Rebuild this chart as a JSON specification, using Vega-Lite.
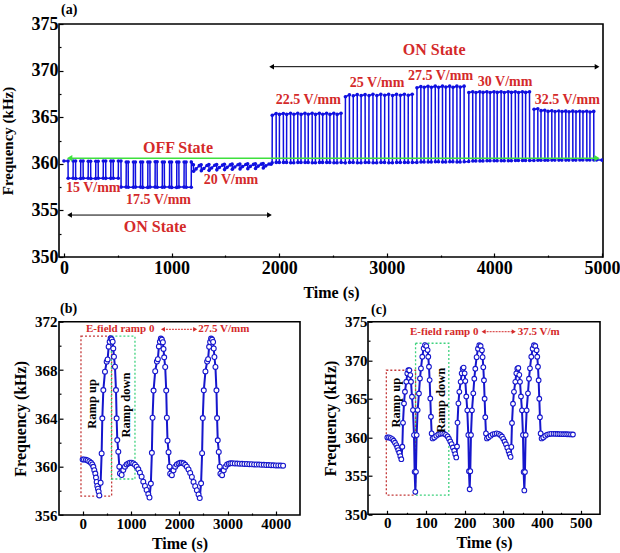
{
  "$schema": "https://vega.github.io/schema/vega-lite/v6.json",
  "autosize": {"type": "none"},
  "padding": {"left": 59, "top": 24, "right": 561, "bottom": 529},
  "background": "white",
  "bounds": "flush",
  "spacing": 64.7,
  "config": {
    "view": {"stroke": "black", "strokeWidth": 1.6},
    "font": "Liberation Serif",
    "axis": {"domain": false, "grid": false, "labelFont": "Liberation Serif", "labelFontWeight": "bold", "labelColor": "black", "titleFont": "Liberation Serif", "titleFontWeight": "bold", "titleColor": "black", "tickColor": "black", "tickWidth": 1.2, "labelOverlap": false, "labelFlush": false, "labelBound": false},
    "title": {"font": "Liberation Serif", "fontWeight": "bold", "fontSize": 14, "anchor": "start", "frame": "group", "color": "black", "offset": 0}
  },
  "vconcat": [
    {
      "width": 544, "height": 233,
      "title": {"text": "(a)", "dx": 2, "dy": 6},
      "encoding": {
        "x": {"field": "t", "type": "quantitative", "scale": {"domain": [-46, 5010], "nice": false, "zero": false},
          "axis": {"title": "Time (s)", "values": [0, 500, 1000, 1500, 2000, 2500, 3000, 3500, 4000, 4500, 5000], "format": "d", "labelExpr": "datum.value % 1000 === 0 ? datum.label : ''", "tickSize": {"condition": {"test": "datum.value % 1000 === 0", "value": -4}, "value": -2}, "labelFontSize": 18, "titleFontSize": 16, "labelPadding": 6, "titleY": 35, "titleBaseline": "middle"}},
        "y": {"field": "f", "type": "quantitative", "scale": {"domain": [350, 375], "nice": false, "zero": false},
          "axis": {"title": "Frequency (kHz)", "values": [350, 352.5, 355, 357.5, 360, 362.5, 365, 367.5, 370, 372.5, 375], "format": "d", "labelExpr": "datum.value % 5 === 0 ? datum.label : ''", "tickSize": {"condition": {"test": "datum.value % 5 === 0", "value": -4}, "value": -2}, "labelFontSize": 18, "titleFontSize": 15, "labelPadding": 5, "titleX": -52, "titleBaseline": "middle"}}
      },
      "layer": [
        {
          "data": {"values": [
            {"t":0,"f":360.3},
            {"t":38,"f":360.3},{"t":39,"f":358.45},{"t":85,"f":358.45},{"t":86,"f":360.3},
            {"t":108,"f":360.3},{"t":109,"f":358.42},{"t":155,"f":358.42},{"t":156,"f":360.3},
            {"t":178,"f":360.3},{"t":179,"f":358.45},{"t":225,"f":358.45},{"t":226,"f":360.28},
            {"t":248,"f":360.28},{"t":249,"f":358.43},{"t":295,"f":358.43},{"t":296,"f":360.28},
            {"t":318,"f":360.28},{"t":319,"f":358.45},{"t":365,"f":358.45},{"t":366,"f":360.3},
            {"t":388,"f":360.3},{"t":389,"f":358.44},{"t":435,"f":358.44},{"t":436,"f":360.3},
            {"t":458,"f":360.3},{"t":459,"f":358.45},{"t":505,"f":358.45},{"t":506,"f":360.3},
            {"t":530,"f":360.3},{"t":531,"f":357.5},{"t":578,"f":357.5},{"t":579,"f":360.2},
            {"t":597,"f":360.2},{"t":598,"f":357.48},{"t":645,"f":357.48},{"t":646,"f":360.2},
            {"t":664,"f":360.2},{"t":665,"f":357.5},{"t":712,"f":357.5},{"t":713,"f":360.2},
            {"t":731,"f":360.2},{"t":732,"f":357.47},{"t":779,"f":357.47},{"t":780,"f":360.2},
            {"t":799,"f":360.2},{"t":800,"f":357.5},{"t":847,"f":357.5},{"t":848,"f":360.22},
            {"t":866,"f":360.22},{"t":867,"f":357.48},{"t":914,"f":357.48},{"t":915,"f":360.2},
            {"t":933,"f":360.2},{"t":934,"f":357.5},{"t":981,"f":357.5},{"t":982,"f":360.2},
            {"t":1000,"f":360.2},{"t":1001,"f":357.47},{"t":1048,"f":357.47},{"t":1049,"f":360.2},
            {"t":1068,"f":360.2},{"t":1069,"f":357.5},{"t":1116,"f":357.5},{"t":1117,"f":360.2},
            {"t":1135,"f":360.2},{"t":1136,"f":357.48},{"t":1183,"f":357.48},{"t":1184,"f":360.2},
            {"t":1203,"f":359.9},{"t":1205,"f":359.2},{"t":1228,"f":359.45},{"t":1258,"f":359.8},
            {"t":1275,"f":359.9},{"t":1277,"f":359.25},{"t":1300,"f":359.5},{"t":1330,"f":359.82},
            {"t":1347,"f":359.92},{"t":1349,"f":359.3},{"t":1372,"f":359.55},{"t":1402,"f":359.85},
            {"t":1419,"f":359.93},{"t":1421,"f":359.35},{"t":1444,"f":359.6},{"t":1474,"f":359.86},
            {"t":1491,"f":359.95},{"t":1493,"f":359.38},{"t":1516,"f":359.62},{"t":1546,"f":359.88},
            {"t":1563,"f":359.96},{"t":1565,"f":359.42},{"t":1588,"f":359.66},{"t":1618,"f":359.9},
            {"t":1635,"f":359.98},{"t":1637,"f":359.45},{"t":1660,"f":359.7},{"t":1690,"f":359.92},
            {"t":1707,"f":360.0},{"t":1709,"f":359.48},{"t":1732,"f":359.72},{"t":1762,"f":359.94},
            {"t":1779,"f":360.0},{"t":1781,"f":359.5},{"t":1804,"f":359.75},{"t":1834,"f":359.96},
            {"t":1851,"f":360.02},{"t":1853,"f":359.55},{"t":1876,"f":359.78},{"t":1906,"f":359.98},
            {"t":1925,"f":359.95},
            {"t":1935,"f":360.1},{"t":1936,"f":365.2},{"t":1972,"f":365.4},{"t":1973,"f":360.15},
            {"t":2002,"f":360.15},{"t":2003,"f":365.3},{"t":2039,"f":365.4},{"t":2040,"f":360.15},
            {"t":2069,"f":360.15},{"t":2070,"f":365.3},{"t":2106,"f":365.42},{"t":2107,"f":360.12},
            {"t":2136,"f":360.12},{"t":2137,"f":365.32},{"t":2173,"f":365.42},{"t":2174,"f":360.15},
            {"t":2203,"f":360.15},{"t":2204,"f":365.3},{"t":2240,"f":365.42},{"t":2241,"f":360.15},
            {"t":2270,"f":360.15},{"t":2271,"f":365.32},{"t":2307,"f":365.43},{"t":2308,"f":360.12},
            {"t":2337,"f":360.12},{"t":2338,"f":365.3},{"t":2374,"f":365.42},{"t":2375,"f":360.15},
            {"t":2404,"f":360.15},{"t":2405,"f":365.32},{"t":2441,"f":365.43},{"t":2442,"f":360.15},
            {"t":2471,"f":360.15},{"t":2472,"f":365.3},{"t":2508,"f":365.42},{"t":2509,"f":360.12},
            {"t":2538,"f":360.12},{"t":2539,"f":365.3},{"t":2575,"f":365.42},{"t":2576,"f":360.15},
            {"t":2615,"f":360.1},{"t":2616,"f":367.2},{"t":2653,"f":367.4},{"t":2654,"f":360.15},
            {"t":2688,"f":360.15},{"t":2689,"f":367.3},{"t":2726,"f":367.42},{"t":2727,"f":360.12},
            {"t":2761,"f":360.12},{"t":2762,"f":367.32},{"t":2799,"f":367.42},{"t":2800,"f":360.15},
            {"t":2834,"f":360.15},{"t":2835,"f":367.32},{"t":2872,"f":367.45},{"t":2873,"f":360.12},
            {"t":2907,"f":360.12},{"t":2908,"f":367.33},{"t":2945,"f":367.45},{"t":2946,"f":360.15},
            {"t":2980,"f":360.15},{"t":2981,"f":367.35},{"t":3018,"f":367.45},{"t":3019,"f":360.12},
            {"t":3053,"f":360.12},{"t":3054,"f":367.33},{"t":3091,"f":367.45},{"t":3092,"f":360.15},
            {"t":3126,"f":360.15},{"t":3127,"f":367.35},{"t":3164,"f":367.46},{"t":3165,"f":360.15},
            {"t":3199,"f":360.15},{"t":3200,"f":367.35},{"t":3237,"f":367.46},{"t":3238,"f":360.15},
            {"t":3280,"f":360.15},{"t":3281,"f":368.15},{"t":3317,"f":368.3},{"t":3318,"f":360.2},
            {"t":3347,"f":360.2},{"t":3348,"f":368.22},{"t":3384,"f":368.32},{"t":3385,"f":360.2},
            {"t":3414,"f":360.2},{"t":3415,"f":368.22},{"t":3451,"f":368.33},{"t":3452,"f":360.22},
            {"t":3481,"f":360.22},{"t":3482,"f":368.22},{"t":3518,"f":368.33},{"t":3519,"f":360.2},
            {"t":3548,"f":360.2},{"t":3549,"f":368.23},{"t":3585,"f":368.33},{"t":3586,"f":360.22},
            {"t":3615,"f":360.22},{"t":3616,"f":368.22},{"t":3652,"f":368.33},{"t":3653,"f":360.2},
            {"t":3682,"f":360.2},{"t":3683,"f":368.23},{"t":3719,"f":368.33},{"t":3720,"f":360.22},
            {"t":3762,"f":360.25},{"t":3763,"f":367.65},{"t":3799,"f":367.72},{"t":3800,"f":360.3},
            {"t":3828,"f":360.3},{"t":3829,"f":367.65},{"t":3865,"f":367.72},{"t":3866,"f":360.3},
            {"t":3894,"f":360.3},{"t":3895,"f":367.66},{"t":3931,"f":367.72},{"t":3932,"f":360.32},
            {"t":3960,"f":360.32},{"t":3961,"f":367.65},{"t":3997,"f":367.72},{"t":3998,"f":360.32},
            {"t":4026,"f":360.32},{"t":4027,"f":367.66},{"t":4063,"f":367.72},{"t":4064,"f":360.33},
            {"t":4092,"f":360.33},{"t":4093,"f":367.65},{"t":4129,"f":367.72},{"t":4130,"f":360.33},
            {"t":4158,"f":360.33},{"t":4159,"f":367.66},{"t":4195,"f":367.72},{"t":4196,"f":360.35},
            {"t":4224,"f":360.35},{"t":4225,"f":367.65},{"t":4261,"f":367.72},{"t":4262,"f":360.35},
            {"t":4290,"f":360.35},{"t":4291,"f":367.66},{"t":4327,"f":367.72},{"t":4328,"f":360.35},
            {"t":4368,"f":360.35},{"t":4369,"f":365.85},{"t":4404,"f":365.9},{"t":4405,"f":360.38},
            {"t":4433,"f":360.38},{"t":4434,"f":365.7},{"t":4469,"f":365.75},{"t":4470,"f":360.38},
            {"t":4498,"f":360.38},{"t":4499,"f":365.62},{"t":4534,"f":365.68},{"t":4535,"f":360.4},
            {"t":4563,"f":360.4},{"t":4564,"f":365.6},{"t":4599,"f":365.66},{"t":4600,"f":360.4},
            {"t":4628,"f":360.4},{"t":4629,"f":365.6},{"t":4664,"f":365.65},{"t":4665,"f":360.4},
            {"t":4693,"f":360.4},{"t":4694,"f":365.58},{"t":4729,"f":365.65},{"t":4730,"f":360.4},
            {"t":4758,"f":360.4},{"t":4759,"f":365.58},{"t":4794,"f":365.64},{"t":4795,"f":360.42},
            {"t":4823,"f":360.42},{"t":4824,"f":365.58},{"t":4859,"f":365.64},{"t":4860,"f":360.42},
            {"t":4888,"f":360.42},{"t":4889,"f":365.56},{"t":4924,"f":365.62},{"t":4925,"f":360.42},
            {"t":4950,"f":360.42},{"t":5000,"f":360.4}
          ]},
          "mark": {"type": "line", "color": "#1010e0", "strokeWidth": 1.5, "clip": true, "point": {"filled": true, "size": 13, "color": "#1010e0"}}
        },
        {
          "data": {"values": [{"t": 52, "t2": 4955, "f": 360.6}]},
          "mark": {"type": "rule", "color": "#3ee03e", "strokeWidth": 1.6},
          "encoding": {"x2": {"field": "t2"}}
        },
        {
          "data": {"values": [{"t": 52, "f": 360.6, "d": "L"}, {"t": 4955, "f": 360.6, "d": "R"}]},
          "mark": {"type": "point", "filled": true, "color": "#3ee03e", "size": 40, "opacity": 1},
          "encoding": {"shape": {"field": "d", "type": "nominal", "scale": {"domain": ["L", "R"], "range": ["triangle-left", "triangle-right"]}, "legend": null}}
        },
        {
          "data": {"values": [{"t": 1930, "t2": 4955, "f": 370.42}, {"t": 52, "t2": 1910, "f": 354.5}]},
          "mark": {"type": "rule", "color": "black", "strokeWidth": 1},
          "encoding": {"x2": {"field": "t2"}}
        },
        {
          "data": {"values": [{"t": 1930, "f": 370.42, "d": "L"}, {"t": 4955, "f": 370.42, "d": "R"}, {"t": 52, "f": 354.5, "d": "L"}, {"t": 1910, "f": 354.5, "d": "R"}]},
          "mark": {"type": "point", "filled": true, "color": "black", "size": 30, "opacity": 1},
          "encoding": {"shape": {"field": "d", "type": "nominal", "scale": {"domain": ["L", "R"], "range": ["triangle-left", "triangle-right"]}, "legend": null}}
        },
        {
          "data": {"values": [
            {"t": 272, "f": 357.37, "s": "15 V/mm"},
            {"t": 878, "f": 356.1, "s": "17.5 V/mm"},
            {"t": 1552, "f": 358.26, "s": "20 V/mm"},
            {"t": 2272, "f": 366.85, "s": "22.5 V/mm"},
            {"t": 2910, "f": 368.64, "s": "25 V/mm"},
            {"t": 3500, "f": 369.42, "s": "27.5 V/mm"},
            {"t": 4100, "f": 368.8, "s": "30 V/mm"},
            {"t": 4678, "f": 366.85, "s": "32.5 V/mm"}
          ]},
          "mark": {"type": "text", "font": "Liberation Serif", "fontWeight": "bold", "fontSize": 14, "color": "#d42a2a", "align": "center", "baseline": "middle"},
          "encoding": {"text": {"field": "s"}}
        },
        {
          "data": {"values": [
            {"t": 1060, "f": 361.66, "s": "OFF State"},
            {"t": 3441, "f": 372.2, "s": "ON State"},
            {"t": 847, "f": 353.25, "s": "ON State"}
          ]},
          "mark": {"type": "text", "font": "Liberation Serif", "fontWeight": "bold", "fontSize": 16, "color": "#d42a2a", "align": "center", "baseline": "middle"},
          "encoding": {"text": {"field": "s"}}
        }
      ]
    },
    {
      "hconcat": [
        {
          "width": 241, "height": 193.3,
          "title": {"text": "(b)", "dx": 1, "dy": 5},
          "encoding": {
            "x": {"field": "t", "type": "quantitative", "scale": {"domain": [-490, 4500], "nice": false, "zero": false},
              "axis": {"title": "Time (s)", "values": [0, 500, 1000, 1500, 2000, 2500, 3000, 3500, 4000], "format": "d", "labelExpr": "datum.value % 1000 === 0 ? datum.label : ''", "tickSize": {"condition": {"test": "datum.value % 1000 === 0", "value": -4}, "value": -2}, "labelFontSize": 15, "titleFontSize": 16, "labelPadding": 5, "titleY": 28, "titleBaseline": "middle"}},
            "y": {"field": "f", "type": "quantitative", "scale": {"domain": [356, 372], "nice": false, "zero": false},
              "axis": {"title": "Frequency (kHz)", "values": [356, 358, 360, 362, 364, 366, 368, 370, 372], "format": "d", "labelExpr": "datum.value % 4 === 0 ? datum.label : ''", "tickSize": {"condition": {"test": "datum.value % 4 === 0", "value": -4}, "value": -2}, "labelFontSize": 15, "titleFontSize": 16, "labelPadding": 6, "titleX": -39, "titleBaseline": "middle"}}
          },
          "layer": [
            {
              "data": {"values": [
                {"t": -35, "t2": 600, "f": 357.57, "f2": 370.8, "k": "up"},
                {"t": 595, "t2": 1083, "f": 358.98, "f2": 370.8, "k": "down"}
              ]},
              "mark": {"type": "rect", "filled": false, "strokeDash": [2, 2], "strokeWidth": 1.3},
              "encoding": {"x2": {"field": "t2"}, "y2": {"field": "f2"}, "color": {"field": "k", "type": "nominal", "scale": {"domain": ["up", "down"], "range": ["#c43a3a", "#3fd27e"]}, "legend": null}}
            },
            {
              "data": {"name": "b"},
              "layer": [
                {"mark": {"type": "line", "color": "#1616cc", "strokeWidth": 2}},
                {"mark": {"type": "point", "shape": "circle", "filled": true, "fill": "white", "stroke": "#1616cc", "strokeWidth": 1.1, "size": 24, "opacity": 1}}
              ]
            },
            {
              "data": {"values": [{"t": 186, "f": 365.2, "s": "Ramp up"}, {"t": 890, "f": 365.1, "s": "Ramp down"}]},
              "mark": {"type": "text", "angle": 270, "font": "Liberation Serif", "fontWeight": "bold", "fontSize": 12.5, "color": "black", "align": "center", "baseline": "middle"},
              "encoding": {"text": {"field": "s"}}
            },
            {
              "data": {"values": [{"t": 68, "f": 371.37, "s": "E-field ramp 0"}, {"t": 2394, "f": 371.37, "s": "27.5 V/mm"}]},
              "mark": {"type": "text", "font": "Liberation Serif", "fontWeight": "bold", "fontSize": 11, "color": "#d42a2a", "align": "left", "baseline": "middle"},
              "encoding": {"text": {"field": "s"}}
            },
            {
              "data": {"values": [{"t": 1662, "t2": 2330, "f": 371.37}]},
              "mark": {"type": "rule", "color": "#d42a2a", "strokeWidth": 1, "strokeDash": [2, 1]},
              "encoding": {"x2": {"field": "t2"}}
            },
            {
              "data": {"values": [{"t": 1662, "f": 371.37, "d": "L"}, {"t": 2330, "f": 371.37, "d": "R"}]},
              "mark": {"type": "point", "filled": true, "color": "#d42a2a", "size": 22, "opacity": 1},
              "encoding": {"shape": {"field": "d", "type": "nominal", "scale": {"domain": ["L", "R"], "range": ["triangle-left", "triangle-right"]}, "legend": null}}
            }
          ]
        },
        {
          "width": 232, "height": 192.6,
          "title": {"text": "(c)", "dx": 3, "dy": 6},
          "encoding": {
            "x": {"field": "t", "type": "quantitative", "scale": {"domain": [-50, 550], "nice": false, "zero": false},
              "axis": {"title": "Time (s)", "values": [0, 50, 100, 150, 200, 250, 300, 350, 400, 450, 500], "format": "d", "labelExpr": "datum.value % 100 === 0 ? datum.label : ''", "tickSize": {"condition": {"test": "datum.value % 100 === 0", "value": -4}, "value": -2}, "labelFontSize": 15, "titleFontSize": 16, "labelPadding": 5, "titleY": 28, "titleBaseline": "middle"}},
            "y": {"field": "f", "type": "quantitative", "scale": {"domain": [350, 375], "nice": false, "zero": false},
              "axis": {"title": "Frequency (kHz)", "values": [350, 352.5, 355, 357.5, 360, 362.5, 365, 367.5, 370, 372.5, 375], "format": "d", "labelExpr": "datum.value % 5 === 0 ? datum.label : ''", "tickSize": {"condition": {"test": "datum.value % 5 === 0", "value": -4}, "value": -2}, "labelFontSize": 15, "titleFontSize": 16, "labelPadding": 5, "titleX": -38, "titleBaseline": "middle"}}
          },
          "layer": [
            {
              "data": {"values": [
                {"t": -2.6, "t2": 73, "f": 352.5, "f2": 368.7, "k": "up"},
                {"t": 73, "t2": 159, "f": 352.5, "f2": 372.2, "k": "down"}
              ]},
              "mark": {"type": "rect", "filled": false, "strokeDash": [2, 2], "strokeWidth": 1.3},
              "encoding": {"x2": {"field": "t2"}, "y2": {"field": "f2"}, "color": {"field": "k", "type": "nominal", "scale": {"domain": ["up", "down"], "range": ["#c43a3a", "#3fd27e"]}, "legend": null}}
            },
            {
              "data": {"name": "c"},
              "layer": [
                {"mark": {"type": "line", "color": "#1616cc", "strokeWidth": 2}},
                {"mark": {"type": "point", "shape": "circle", "filled": true, "fill": "white", "stroke": "#1616cc", "strokeWidth": 1.1, "size": 22, "opacity": 1}}
              ]
            },
            {
              "data": {"values": [{"t": 21.7, "f": 364.5, "s": "Ramp up"}, {"t": 138, "f": 364.8, "s": "Ramp down"}]},
              "mark": {"type": "text", "angle": 270, "font": "Liberation Serif", "fontWeight": "bold", "fontSize": 12.5, "color": "black", "align": "center", "baseline": "middle"},
              "encoding": {"text": {"field": "s"}}
            },
            {
              "data": {"values": [{"t": 58.7, "f": 373.7, "s": "E-field ramp 0"}, {"t": 337, "f": 373.7, "s": "37.5 V/m"}]},
              "mark": {"type": "text", "font": "Liberation Serif", "fontWeight": "bold", "fontSize": 11, "color": "#d42a2a", "align": "left", "baseline": "middle"},
              "encoding": {"text": {"field": "s"}}
            },
            {
              "data": {"values": [{"t": 249, "t2": 327, "f": 373.7}]},
              "mark": {"type": "rule", "color": "#d42a2a", "strokeWidth": 1, "strokeDash": [2, 1]},
              "encoding": {"x2": {"field": "t2"}}
            },
            {
              "data": {"values": [{"t": 249, "f": 373.7, "d": "L"}, {"t": 327, "f": 373.7, "d": "R"}]},
              "mark": {"type": "point", "filled": true, "color": "#d42a2a", "size": 22, "opacity": 1},
              "encoding": {"shape": {"field": "d", "type": "nominal", "scale": {"domain": ["L", "R"], "range": ["triangle-left", "triangle-right"]}, "legend": null}}
            }
          ]
        }
      ],
      "spacing": 68,
      "bounds": "flush"
    }
  ],
  "datasets": {
    "b": [
      {"t":0,"f":360.6},{"t":28,"f":360.6},{"t":69,"f":360.57},{"t":103,"f":360.52},{"t":138,"f":360.43},{"t":172,"f":360.32},{"t":200,"f":360.18},{"t":221,"f":359.99},{"t":241,"f":359.71},{"t":262,"f":359.43},{"t":276,"f":359.1},{"t":290,"f":358.74},{"t":303,"f":358.4},{"t":317,"f":358.18},{"t":331,"f":357.95},{"t":345,"f":357.62},
      {"t":372,"f":358.67},{"t":393,"f":361.1},{"t":407,"f":364.0},{"t":428,"f":366.34},{"t":462,"f":367.86},{"t":497,"f":368.69},{"t":517,"f":368.88},{"t":538,"f":369.93},{"t":559,"f":370.34},{"t":579,"f":370.62},
      {"t":600,"f":370.54},{"t":621,"f":370.34},{"t":634,"f":369.79},{"t":648,"f":369.1},{"t":669,"f":368.27},{"t":690,"f":366.34},{"t":703,"f":364.0},{"t":717,"f":362.2},{"t":738,"f":361.24},{"t":759,"f":360.0},{"t":772,"f":359.44},
      {"t":807,"f":359.31},{"t":841,"f":359.72},{"t":876,"f":360.0},{"t":910,"f":360.19},{"t":945,"f":360.27},{"t":979,"f":360.33},{"t":1014,"f":360.33},{"t":1048,"f":360.27},{"t":1083,"f":360.16},{"t":1117,"f":360.0},{"t":1152,"f":359.78},{"t":1186,"f":359.5},{"t":1221,"f":359.17},{"t":1255,"f":358.76},{"t":1290,"f":358.4},{"t":1324,"f":358.07},{"t":1359,"f":357.73},{"t":1384,"f":357.45},
      {"t":1412,"f":358.6},{"t":1433,"f":361.15},{"t":1447,"f":364.05},{"t":1468,"f":366.3},{"t":1502,"f":367.9},{"t":1537,"f":368.7},{"t":1557,"f":368.9},{"t":1578,"f":369.95},{"t":1599,"f":370.35},{"t":1619,"f":370.6},
      {"t":1640,"f":370.52},{"t":1661,"f":370.3},{"t":1674,"f":369.75},{"t":1688,"f":369.05},{"t":1709,"f":368.25},{"t":1730,"f":366.3},{"t":1743,"f":364.05},{"t":1757,"f":362.15},{"t":1778,"f":361.2},{"t":1799,"f":360.0},{"t":1812,"f":359.42},
      {"t":1847,"f":359.3},{"t":1881,"f":359.7},{"t":1916,"f":360.0},{"t":1950,"f":360.18},{"t":1985,"f":360.27},{"t":2019,"f":360.32},{"t":2054,"f":360.33},{"t":2088,"f":360.28},{"t":2123,"f":360.15},{"t":2157,"f":360.0},{"t":2192,"f":359.77},{"t":2226,"f":359.48},{"t":2261,"f":359.15},{"t":2295,"f":358.74},{"t":2330,"f":358.38},{"t":2364,"f":358.05},{"t":2399,"f":357.7},{"t":2424,"f":357.4},
      {"t":2452,"f":358.62},{"t":2473,"f":361.12},{"t":2487,"f":364.02},{"t":2508,"f":366.32},{"t":2542,"f":367.88},{"t":2577,"f":368.7},{"t":2597,"f":368.9},{"t":2618,"f":369.92},{"t":2639,"f":370.32},{"t":2659,"f":370.6},
      {"t":2680,"f":370.52},{"t":2701,"f":370.32},{"t":2714,"f":369.78},{"t":2728,"f":369.08},{"t":2749,"f":368.26},{"t":2770,"f":366.32},{"t":2783,"f":364.02},{"t":2797,"f":362.18},{"t":2818,"f":361.22},{"t":2839,"f":360.0},{"t":2852,"f":359.42},
      {"t":2887,"f":359.3},{"t":2921,"f":359.7},{"t":2956,"f":360.0},{"t":2990,"f":360.18},{"t":3025,"f":360.25},{"t":3060,"f":360.28},{"t":3100,"f":360.28},{"t":3150,"f":360.27},{"t":3200,"f":360.26},{"t":3250,"f":360.25},{"t":3300,"f":360.24},{"t":3350,"f":360.23},{"t":3400,"f":360.22},{"t":3450,"f":360.21},{"t":3500,"f":360.2},{"t":3550,"f":360.19},{"t":3600,"f":360.18},{"t":3650,"f":360.17},{"t":3700,"f":360.16},{"t":3750,"f":360.15},{"t":3800,"f":360.14},{"t":3850,"f":360.13},{"t":3900,"f":360.12},{"t":3950,"f":360.11},{"t":4000,"f":360.1},{"t":4050,"f":360.1},{"t":4100,"f":360.09},{"t":4150,"f":360.08}
    ],
    "c": [
      {"t":0,"f":359.98},{"t":4.3,"f":359.98},{"t":8.6,"f":359.89},{"t":12.9,"f":359.76},{"t":16.4,"f":359.55},{"t":19.8,"f":359.29},{"t":23.3,"f":358.98},{"t":25.8,"f":358.68},{"t":28.4,"f":358.33},{"t":31,"f":357.99},{"t":33.6,"f":357.55},{"t":36.2,"f":357.15},
      {"t":38.8,"f":358.77},{"t":40.5,"f":361.88},{"t":43.1,"f":364.39},{"t":45.6,"f":365.91},{"t":49.1,"f":367.21},{"t":51.7,"f":368.29},{"t":54.3,"f":368.72},{"t":56.8,"f":368.7},{"t":59.4,"f":368.07},{"t":61.2,"f":367.21},{"t":63.7,"f":365.26},{"t":66.3,"f":363.53},{"t":68.9,"f":360.28},{"t":70.6,"f":355.52},{"t":72.4,"f":352.92},
      {"t":74,"f":355.52},{"t":75.8,"f":360.28},{"t":78.4,"f":363.53},{"t":81.8,"f":365.69},{"t":84.4,"f":367.64},{"t":87,"f":368.94},{"t":90.4,"f":370.45},{"t":93.9,"f":371.54},{"t":97.3,"f":371.97},{"t":100.8,"f":371.84},{"t":104.2,"f":371.32},{"t":105.9,"f":370.45},{"t":107.7,"f":369.16},{"t":109.4,"f":367.42},{"t":111.1,"f":365.04},{"t":112.8,"f":362.66},{"t":114.6,"f":360.5},{"t":117.1,"f":359.85},
      {"t":121.4,"f":359.98},{"t":126.6,"f":360.19},{"t":131.8,"f":360.37},{"t":137,"f":360.45},{"t":142.1,"f":360.5},{"t":147.3,"f":360.45},{"t":151.6,"f":360.32},{"t":155.9,"f":360.11},{"t":159.3,"f":359.81},{"t":162.8,"f":359.46},{"t":166.2,"f":359.11},{"t":169.7,"f":358.68},{"t":173.1,"f":358.25},{"t":175.7,"f":357.81},{"t":178.3,"f":357.38},
      {"t":180.2,"f":358.8},{"t":181.5,"f":361.9},{"t":183.8,"f":364.4},{"t":186.2,"f":365.9},{"t":189.6,"f":367.2},{"t":192.2,"f":368.3},{"t":194.8,"f":368.9},{"t":197.3,"f":369.05},{"t":199.9,"f":368.3},{"t":201.7,"f":367.3},{"t":204.2,"f":365.3},{"t":206.8,"f":363.5},{"t":209.4,"f":360.3},{"t":211.1,"f":355.6},{"t":212.9,"f":353.25},
      {"t":214.5,"f":355.6},{"t":216.3,"f":360.3},{"t":218.9,"f":363.5},{"t":222.3,"f":365.7},{"t":224.9,"f":367.6},{"t":227.5,"f":368.9},{"t":230.9,"f":370.4},{"t":234.4,"f":371.5},{"t":237.8,"f":371.95},{"t":241.3,"f":371.85},{"t":244.7,"f":371.3},{"t":246.4,"f":370.4},{"t":248.2,"f":369.1},{"t":249.9,"f":367.4},{"t":251.6,"f":365.0},{"t":253.3,"f":362.6},{"t":255.1,"f":360.5},{"t":257.6,"f":359.85},
      {"t":261.9,"f":360.0},{"t":267.1,"f":360.2},{"t":272.3,"f":360.38},{"t":277.5,"f":360.45},{"t":282.6,"f":360.5},{"t":287.8,"f":360.45},{"t":292.1,"f":360.3},{"t":296.4,"f":360.1},{"t":299.8,"f":359.8},{"t":303.3,"f":359.45},{"t":306.7,"f":359.1},{"t":310.2,"f":358.65},{"t":313.6,"f":358.2},{"t":316.2,"f":357.8},{"t":318.8,"f":357.45},
      {"t":320.7,"f":358.75},{"t":322.4,"f":361.85},{"t":325,"f":364.35},{"t":327.5,"f":365.9},{"t":331,"f":367.2},{"t":333.6,"f":368.3},{"t":336.2,"f":368.9},{"t":338.7,"f":369.0},{"t":341.3,"f":368.1},{"t":343.1,"f":367.2},{"t":345.6,"f":365.3},{"t":348.2,"f":363.5},{"t":350.8,"f":360.3},{"t":352.5,"f":355.5},{"t":354.3,"f":353.1},
      {"t":355.9,"f":355.5},{"t":357.7,"f":360.3},{"t":360.3,"f":363.5},{"t":363.7,"f":365.7},{"t":366.3,"f":367.6},{"t":368.9,"f":368.95},{"t":372.3,"f":370.45},{"t":375.8,"f":371.5},{"t":379.2,"f":371.95},{"t":382.7,"f":371.85},{"t":386.1,"f":371.3},{"t":387.8,"f":370.45},{"t":389.6,"f":369.15},{"t":391.3,"f":367.4},{"t":393,"f":365.0},{"t":394.7,"f":362.6},{"t":396.5,"f":360.5},{"t":399,"f":359.85},
      {"t":403.3,"f":359.98},{"t":408.5,"f":360.2},{"t":413.7,"f":360.35},{"t":418.9,"f":360.42},{"t":424,"f":360.45},{"t":430,"f":360.45},{"t":435,"f":360.44},{"t":440,"f":360.43},{"t":445,"f":360.42},{"t":450,"f":360.41},{"t":455,"f":360.4},{"t":460,"f":360.4},{"t":465,"f":360.39},{"t":470,"f":360.38},{"t":475,"f":360.37},{"t":480,"f":360.36}
    ]
  }
}
